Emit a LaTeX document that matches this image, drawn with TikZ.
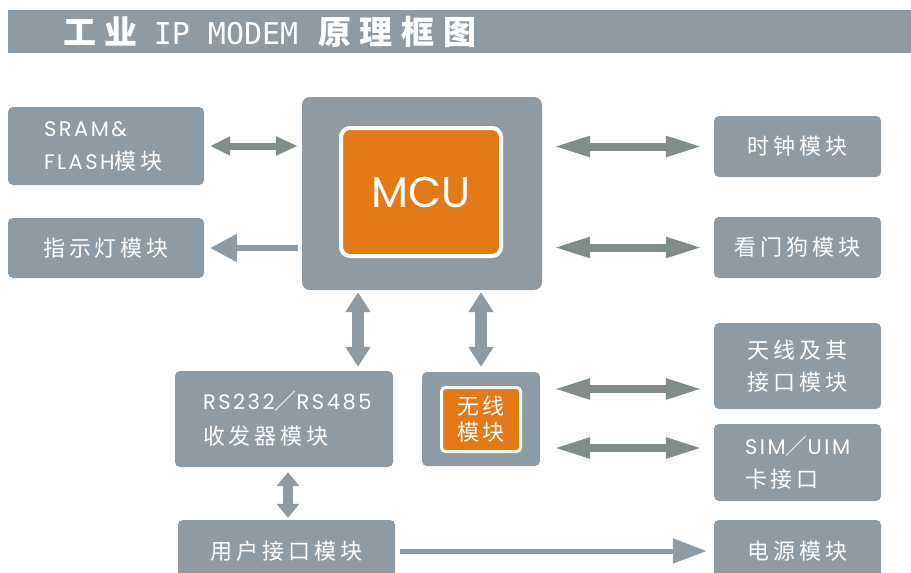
\documentclass[tikz,border=0pt]{standalone}
\usepackage{fontspec}
\setmainfont{Poppins}[LetterSpace=12]
\newfontfamily\cjk{Noto Sans CJK SC}[LetterSpace=18]
\newfontfamily\mono{DejaVu Sans Mono}
\newcommand\zh[1]{{\cjk\fontsize{22}{33}\selectfont #1}}
\usetikzlibrary{arrows.meta}
\definecolor{boxgray}{HTML}{8E9BA4}
\definecolor{arrgray}{HTML}{808D89}
\definecolor{mcuorange}{HTML}{E47917}
\begin{document}
\begin{tikzpicture}[x=1pt, y=-1pt,
    blk/.style={fill=boxgray, rounded corners=5pt, text=white, inner xsep=0pt, inner ysep=0pt,
        font=\fontsize{21}{33}\selectfont},
    core/.style={draw=white, fill=mcuorange, text=white},
    dbl/.style={arrgray, line width=8pt,
        {Triangle[length=37pt,width=19pt]}-{Triangle[length=37pt,width=19pt]}},
    vdbl/.style={boxgray, line width=12pt,
        {Triangle[length=20pt,width=24pt]}-{Triangle[length=20pt,width=24pt]}},
    sgl/.style={boxgray, line width=6pt, -{Triangle[length=27pt,width=27pt]}}]
    \useasboundingbox (0,0) rectangle (911,573);
    \clip (0,0) rectangle (911,573);
    % title bar
    \node[fill=boxgray, minimum width=903, minimum height=43, inner sep=0pt, anchor=north west] (bar) at (8,10) {};
    \node[anchor=west, text=white, inner sep=0pt, font=\fontsize{33}{33}\selectfont\bfseries] (title) at (63,31.5)
        {{\cjk\addfontfeature{LetterSpace=26}工业}\hspace{16pt}{\mono\fontsize{30}{30}\selectfont\mdseries IP MODEM}\hspace{20pt}{\cjk\addfontfeature{LetterSpace=26}原理框图}};
    % left column
    \node[blk, minimum height=78, text width=124, inner xsep=36, align=left] (sram) at (106,146) {SRAM\&\\FLASH\zh{模块}};
    \node[blk, minimum width=196, minimum height=60] (led) at (106,248) {\zh{指示灯模块}};
    % MCU
    \node[blk, minimum width=240, minimum height=193, rounded corners=8pt] (mcu) at (422,193.5) {};
    \node[core, line width=4pt, rounded corners=9pt, minimum width=160, minimum height=128,
        font=\fontsize{43}{43}\selectfont\addfontfeature{LetterSpace=0}] (cpu) at (421,192) {MCU};
    % right column
    \node[blk, minimum width=167, minimum height=61] (clk) at (797.5,146.5) {\zh{时钟模块}};
    \node[blk, minimum width=167, minimum height=61] (wdt) at (797.5,247.5) {\zh{看门狗模块}};
    \node[blk, minimum width=167, minimum height=86, align=center, font=\fontsize{21}{32}\selectfont] (ant) at (797.5,366)
        {\zh{天线及其}\\\zh{接口模块}};
    \node[blk, minimum height=77, text width=105, inner xsep=31, align=left] (sim) at (797.5,462.5)
        {SIM\zh{／}UIM\\\zh{卡接口}};
    \node[blk, minimum width=167, minimum height=62] (pwr) at (797.5,551) {\zh{电源模块}};
    % lower middle
    \node[blk, minimum height=96, text width=162, inner xsep=28, align=left, font=\fontsize{21}{35}\selectfont] (rs) at (284,419)
        {RS232\zh{／}RS485\\\zh{收发器模块}};
    \node[blk, minimum width=118, minimum height=94] (wl) at (481,419) {};
    \node[core, line width=3pt, rounded corners=4pt, minimum width=79, minimum height=64, align=center,
        font=\fontsize{22}{26}\selectfont] (radio) at (481,419.5) {{\cjk 无线}\\{\cjk 模块}};
    \node[blk, minimum width=217, minimum height=62] (usr) at (286.5,551) {\zh{用户接口模块}};
    % arrows
    \coordinate (c1) at (358,0);
    \coordinate (c2) at (0,389);
    \coordinate (c3) at (0,448);
    \coordinate (c4) at (288,0);
    \draw[arrgray, line width=7pt, {Triangle[length=20pt,width=18pt]}-{Triangle[length=22pt,width=18pt]},
        shorten <=6pt, shorten >=4pt] (sram.east) -- (sram.east -| mcu.west);
    \draw[sgl, shorten <=4pt, shorten >=6pt] (mcu.west |- led.east) -- (led.east);
    \draw[dbl, shorten <=11pt, shorten >=11pt] (mcu.east |- clk.west) -- (clk.west);
    \draw[dbl, shorten <=11pt, shorten >=11pt] (mcu.east |- wdt.west) -- (wdt.west);
    \draw[vdbl, shorten <=2pt, shorten >=4pt] (mcu.south -| c1) -- (rs.north -| c1);
    \draw[vdbl, shorten <=2pt, shorten >=5pt] (mcu.south -| wl.north) -- (wl.north);
    \draw[dbl, shorten <=13pt, shorten >=11pt] (wl.east |- c2) -- (ant.west |- c2);
    \draw[dbl, shorten <=13pt, shorten >=11pt] (wl.east |- c3) -- (sim.west |- c3);
    \draw[boxgray, line width=10pt, {Triangle[length=14pt,width=22pt]}-{Triangle[length=14pt,width=22pt]},
        shorten <=5pt, shorten >=2pt] (rs.south -| c4) -- (usr.north -| c4);
    \draw[boxgray, line width=5pt, -{Triangle[length=34pt,width=24pt]}, shorten <=5pt, shorten >=7pt] (usr.east) -- (pwr.west);
\end{tikzpicture}
\end{document}
